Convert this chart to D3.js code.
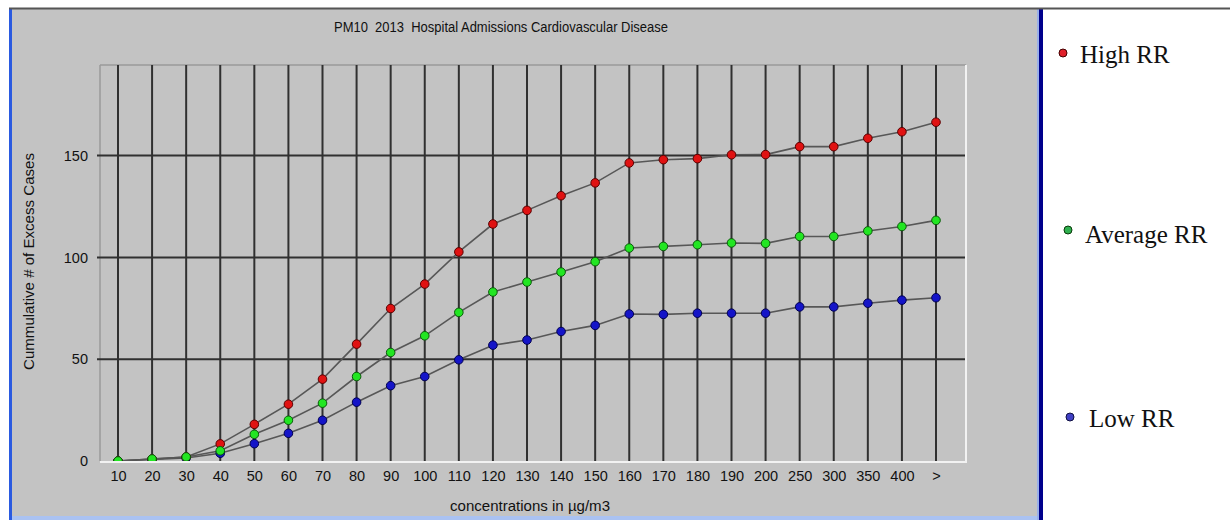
<!DOCTYPE html>
<html>
<head>
<meta charset="utf-8">
<script src="https://cdn.jsdelivr.net/npm/d3@7"></script>
<style>
  html, body { margin: 0; padding: 0; background: #ffffff; }
  svg { display: block; }
  .sans { font-family: "Liberation Sans", Arial, sans-serif; }
  .serif { font-family: "Liberation Serif", "Times New Roman", serif; }
</style>
</head>
<body>
<svg id="chart" width="1230" height="520"></svg>
<script>
// ---- data ----
const categories = ["10","20","30","40","50","60","70","80","90","100","110","120","130","140","150","160","170","180","190","200","250","300","350","400",">"];
const highRR = [0, 1, 2, 8.4, 18, 27.9, 40.2, 57.4, 74.9, 86.9, 102.7, 116.4, 123.1, 130.3, 136.6, 146.4, 148, 148.5, 150.4, 150.5, 154.4, 154.4, 158.5, 161.7, 166.4];
const avgRR  = [0, 1, 2, 5, 13.1, 20, 28.4, 41.5, 53.3, 61.5, 73, 83, 87.9, 92.8, 97.9, 104.6, 105.4, 106.2, 107.1, 106.9, 110.3, 110.3, 113, 115.2, 118.2];
const lowRR  = [0, 0.8, 1.5, 3.8, 8.5, 13.6, 20, 28.9, 37, 41.5, 49.7, 56.9, 59.4, 63.6, 66.6, 72.2, 72, 72.6, 72.6, 72.6, 75.7, 75.7, 77.5, 79, 80.2];
const yTicks = [0, 50, 100, 150];
const seriesNames = ["High RR", "Average RR", "Low RR"];
const titleText = "PM10  2013  Hospital Admissions Cardiovascular Disease";
const xTitle = "concentrations in \u00b5g/m3";
const yTitle = "Cummulative # of Excess Cases";

// ---- layout ----
const svg = d3.select("#chart");
const plot = { left: 100, right: 966, top: 65, bottom: 461 };

// outer panel
svg.append("rect").attr("x", 12).attr("y", 9).attr("width", 1026).attr("height", 507).attr("fill", "#c3c3c3");
svg.append("rect").attr("x", 9).attr("y", 9).attr("width", 3).attr("height", 511).attr("fill", "#2a5ae0");
svg.append("rect").attr("x", 12).attr("y", 516).attr("width", 1026).attr("height", 4).attr("fill", "#aac2f2");
svg.append("rect").attr("x", 1037).attr("y", 9).attr("width", 2).attr("height", 511).attr("fill", "#9ab0e8");
svg.append("rect").attr("x", 1039).attr("y", 9).attr("width", 4).attr("height", 511).attr("fill", "#00008c");
svg.append("line").attr("x1", 9).attr("x2", 1230).attr("y1", 8.5).attr("y2", 8.5).attr("stroke", "#555").attr("stroke-width", 2);

// scales
const x = d3.scalePoint().domain(categories).range([plot.left + 18, plot.right - 30]);
const y = d3.scaleLinear().domain([0, 194.5]).range([plot.bottom, plot.top]);

// plot frame
svg.append("line").attr("x1", plot.left).attr("x2", plot.right).attr("y1", plot.top).attr("y2", plot.top).attr("stroke", "#9a9a9a").attr("stroke-width", 1.5);
svg.append("line").attr("x1", plot.left).attr("x2", plot.left).attr("y1", plot.top).attr("y2", plot.bottom).attr("stroke", "#9a9a9a").attr("stroke-width", 1.5);

// vertical gridlines
svg.append("g").selectAll("line").data(categories).join("line")
  .attr("x1", d => x(d)).attr("x2", d => x(d))
  .attr("y1", plot.top).attr("y2", plot.bottom)
  .attr("stroke", "#303030").attr("stroke-width", 2);

// horizontal gridlines
svg.append("g").selectAll("line").data(yTicks.filter(v => v > 0)).join("line")
  .attr("x1", plot.left - 3).attr("x2", plot.right)
  .attr("y1", d => y(d)).attr("y2", d => y(d))
  .attr("stroke", "#303030").attr("stroke-width", 2);

// light bottom / right edges
svg.append("line").attr("x1", plot.left).attr("x2", plot.right + 1).attr("y1", plot.bottom + 1).attr("y2", plot.bottom + 1).attr("stroke", "#f2f2f2").attr("stroke-width", 2);
svg.append("line").attr("x1", plot.right).attr("x2", plot.right).attr("y1", plot.top).attr("y2", plot.bottom + 1).attr("stroke", "#f2f2f2").attr("stroke-width", 2);

// axes
const yAxis = svg.append("g").attr("transform", `translate(${plot.left},0)`)
  .call(d3.axisLeft(y).tickValues(yTicks).tickSize(0).tickPadding(12));
yAxis.attr("font-family", null).attr("font-size", null);
yAxis.select(".domain").remove();
yAxis.selectAll("text").attr("class", "sans").style("font-size", "14.5px").attr("fill", "#111");

const xAxis = svg.append("g").attr("transform", `translate(0,${plot.bottom + 1})`)
  .call(d3.axisBottom(x).tickSize(0).tickPadding(9));
xAxis.attr("font-family", null).attr("font-size", null);
xAxis.select(".domain").remove();
xAxis.selectAll("text").attr("class", "sans").style("font-size", "14.5px").attr("fill", "#111");

// titles
svg.append("text").attr("class", "sans").attr("x", 334).attr("y", 32).style("font-size", "14px").style("white-space", "pre")
  .attr("fill", "#111").attr("textLength", 334).attr("lengthAdjust", "spacingAndGlyphs").text(titleText);
svg.append("text").attr("class", "sans").attr("x", 530).attr("y", 511).attr("text-anchor", "middle").style("font-size", "14px")
  .attr("fill", "#111").attr("textLength", 160).attr("lengthAdjust", "spacingAndGlyphs").text(xTitle);
svg.append("text").attr("class", "sans").attr("transform", "translate(34,261.5) rotate(-90)").attr("text-anchor", "middle")
  .style("font-size", "14px").attr("fill", "#111")
  .attr("textLength", 217).attr("lengthAdjust", "spacingAndGlyphs").text(yTitle);

// clip for series
svg.append("clipPath").attr("id", "plotclip").append("rect")
  .attr("x", plot.left).attr("y", plot.top).attr("width", plot.right - plot.left).attr("height", plot.bottom - plot.top);

const series = [
  { name: seriesNames[2], values: lowRR,  fill: "#1414c8", stroke: "#000050" },
  { name: seriesNames[0], values: highRR, fill: "#e01212", stroke: "#5a0000" },
  { name: seriesNames[1], values: avgRR,  fill: "#22e622", stroke: "#0a5a0a" }
];

const line = d3.line().x((d, i) => x(categories[i])).y(d => y(d));
const gSeries = svg.append("g").attr("clip-path", "url(#plotclip)");
series.forEach(s => {
  gSeries.append("path").datum(s.values).attr("d", line)
    .attr("fill", "none").attr("stroke", "#575757").attr("stroke-width", 1.6);
});
series.forEach(s => {
  gSeries.append("g").selectAll("circle").data(s.values).join("circle")
    .attr("cx", (d, i) => x(categories[i])).attr("cy", d => y(d)).attr("r", 4.3)
    .attr("fill", s.fill).attr("stroke", s.stroke).attr("stroke-width", 1);
});

// legend
const legend = [
  { name: seriesNames[0], cx: 1063, cy: 53, tx: 1080, ty: 63, fill: "#e0202a", stroke: "#400" },
  { name: seriesNames[1], cx: 1068, cy: 230, tx: 1085, ty: 243, fill: "#2fb04f", stroke: "#0a3a0a" },
  { name: seriesNames[2], cx: 1070, cy: 417, tx: 1089, ty: 427, fill: "#4040c4", stroke: "#101040" }
];
const lg = svg.append("g").selectAll("g").data(legend).join("g");
lg.append("circle").attr("cx", d => d.cx).attr("cy", d => d.cy).attr("r", 4)
  .attr("fill", d => d.fill).attr("stroke", d => d.stroke).attr("stroke-width", 1);
lg.append("text").attr("class", "serif").attr("x", d => d.tx).attr("y", d => d.ty)
  .style("font-size", "25px").attr("fill", "#111").text(d => d.name);
</script>
</body>
</html>
